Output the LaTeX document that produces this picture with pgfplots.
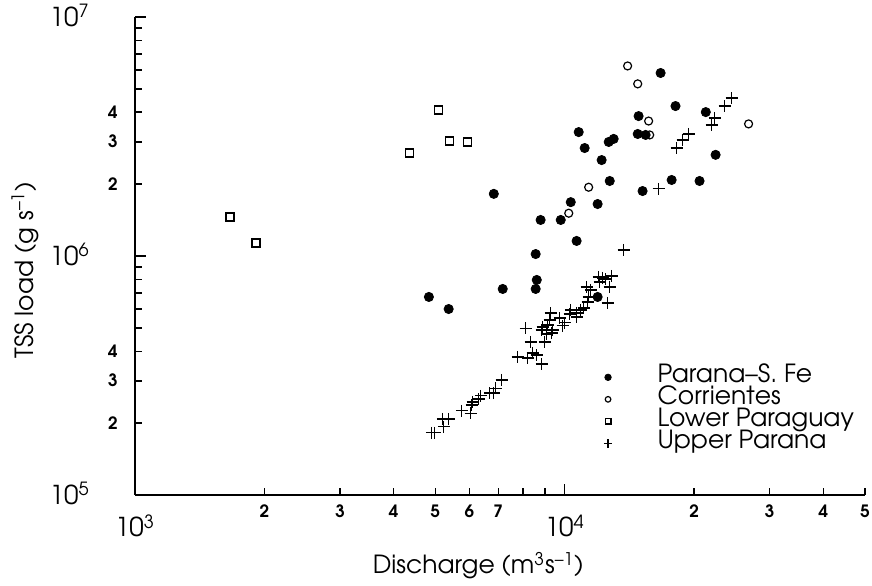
\documentclass[border=0pt]{standalone}
\usepackage[T1]{fontenc}
\usepackage{avant}
\renewcommand{\familydefault}{\sfdefault}
\usepackage{pgfplots}
\pgfplotsset{compat=1.18}

\begin{document}
\begin{tikzpicture}
\begin{axis}[
  xmode=log, ymode=log,
  scale only axis, width=365pt, height=239pt,
  xmin=1000, xmax=50000, ymin=1e5, ymax=1e7,
  axis lines*=left,
  axis line style={line width=0.9pt},
  tick style={line width=0.6pt, black},
  major tick length=5.5pt, minor tick length=3.5pt,
  tick align=inside,
  font=\fontsize{12.5}{14}\selectfont,
  tick label style={inner sep=0pt, font=\fontsize{13}{15}\selectfont},
  xtick={1000,10000}, xticklabels={10\textsuperscript{3},10\textsuperscript{4}},
  ytick={1e5,1e6,1e7}, yticklabels={10\textsuperscript{5},10\textsuperscript{6},10\textsuperscript{7}},
  xticklabel style={anchor=base, yshift=-21pt},
  yticklabel style={anchor=base east, xshift=-22.5pt, yshift=-4.75pt},
  extra x ticks={2000,3000,4000,5000,6000,7000,20000,30000,40000,50000},
  extra x tick labels={2,3,4,5,6,7,2,3,4,5},
  extra y ticks={2e5,3e5,4e5,2e6,3e6,4e6},
  extra y tick labels={2,3,4,2,3,4},
  extra x tick style={major tick length=3.5pt,
    xticklabel style={font=\fontsize{8.5}{10}\selectfont\bfseries, yshift=9.5pt}},
  extra y tick style={major tick length=3.5pt,
    yticklabel style={font=\fontsize{8.5}{10}\selectfont\bfseries, xshift=14pt, yshift=1.75pt}},
  xlabel={Discharge (m\textsuperscript{3}s\textsuperscript{--1})},
  ylabel={TSS load (g s\textsuperscript{--1})},
  xlabel style={at={(axis description cs:0.47,0)}, anchor=base, yshift=-39.5pt},
  ylabel style={at={(axis description cs:-0.1397,0.47)}, anchor=base},
  legend style={draw=none, fill=none, inner sep=0pt, at={(rel axis cs:0.631,0.27)}, anchor=north west,
    font=\fontsize{12.5}{13}\selectfont,
    nodes={text height=8pt, text depth=2.5pt, inner sep=0.25pt}},
  legend cell align=left,
  legend image code/.code={\path[draw=none] (0pt,0pt) -- (30.5pt,0pt);
    \draw[#1, every mark/.append style={scale=0.7}] plot coordinates {(6pt,0pt)};},
]
% Parana - S. Fe
\addplot[only marks, mark=*, mark size=2.3pt, black] coordinates {
(16720,5.83e6) (18110,4.24e6) (21300,4.00e6) (14860,3.85e6) (14790,3.24e6)
(15430,3.21e6) (10780,3.30e6) (11130,2.83e6) (12660,3.00e6) (13000,3.09e6)
(12190,2.52e6) (22450,2.65e6) (12730,2.06e6) (17740,2.08e6) (20600,2.06e6)
(15180,1.87e6) (6840,1.82e6) (10330,1.68e6) (11930,1.65e6) (8790,1.415e6)
(9790,1.415e6) (10660,1.156e6) (8560,1.019e6) (8610,7.94e5) (7175,7.28e5)
(8560,7.28e5) (4830,6.74e5) (5370,6.00e5) (11930,6.74e5)
};
\addlegendentry{Parana--S. Fe}
% Corrientes
\addplot[only marks, mark=o, mark size=2pt, line width=0.6pt, black] coordinates {
(14010,6.24e6) (14790,5.25e6) (15680,3.67e6) (15770,3.21e6) (26790,3.57e6)
(11370,1.94e6) (10220,1.51e6)
};
\addlegendentry{Corrientes}
% Lower Paraguay
\addplot[only marks, mark=square, mark size=2pt, line width=0.7pt, black] coordinates {
(1663,1.456e6) (1911,1.134e6) (4360,2.70e6) (5093,4.08e6) (5402,3.03e6) (5950,3.00e6)
};
\addlegendentry{Lower Paraguay}
% Upper Parana
\addplot[only marks, mark=+, mark size=3pt, line width=0.6pt, black] coordinates {
(24460,4.58e6) (23560,4.24e6) (22330,3.78e6) (21970,3.53e6) (19430,3.24e6)
(18810,3.06e6) (18220,2.83e6) (16540,1.91e6) (13710,1.06e6)
(12000,8.17e5) (12260,8.09e5) (12450,8.01e5) (12860,8.25e5) (12060,7.79e5)
(12730,7.42e5) (11250,7.42e5) (11500,7.21e5) (11370,6.74e5) (11310,6.42e5)
(12590,6.36e5) (11070,6.06e5) (10900,5.94e5) (10660,5.77e5) (10330,5.94e5)
(10270,5.72e5) (10660,5.56e5) (10000,5.25e5) (9893,5.10e5) (9278,5.77e5)
(9737,5.50e5) (9229,5.40e5) (9130,5.14e5) (8889,5.05e5) (8842,4.90e5)
(9378,4.90e5) (9328,4.76e5) (9082,4.72e5) (8116,4.99e5) (8336,4.37e5)
(8985,4.37e5) (7774,3.78e5) (8204,3.74e5) (8425,3.93e5) (8610,3.85e5)
(8842,3.53e5)
(7137,3.03e5) (6911,2.80e5) (6839,2.67e5) (6694,2.67e5) (6378,2.60e5)
(6310,2.52e5) (6109,2.45e5) (6077,2.38e5) (6044,2.20e5) (5761,2.25e5)
(5372,2.08e5) (5204,2.08e5) (5232,1.93e5) (4905,1.82e5) (4985,1.82e5)
};
\addlegendentry{Upper Parana}
\coordinate (O) at (rel axis cs:0,0);
\end{axis}
\pgfresetboundingbox
\path[use as bounding box] (O) ++(-67.5pt,-45pt) rectangle ++(436pt,292.5pt);
\end{tikzpicture}
\end{document}
